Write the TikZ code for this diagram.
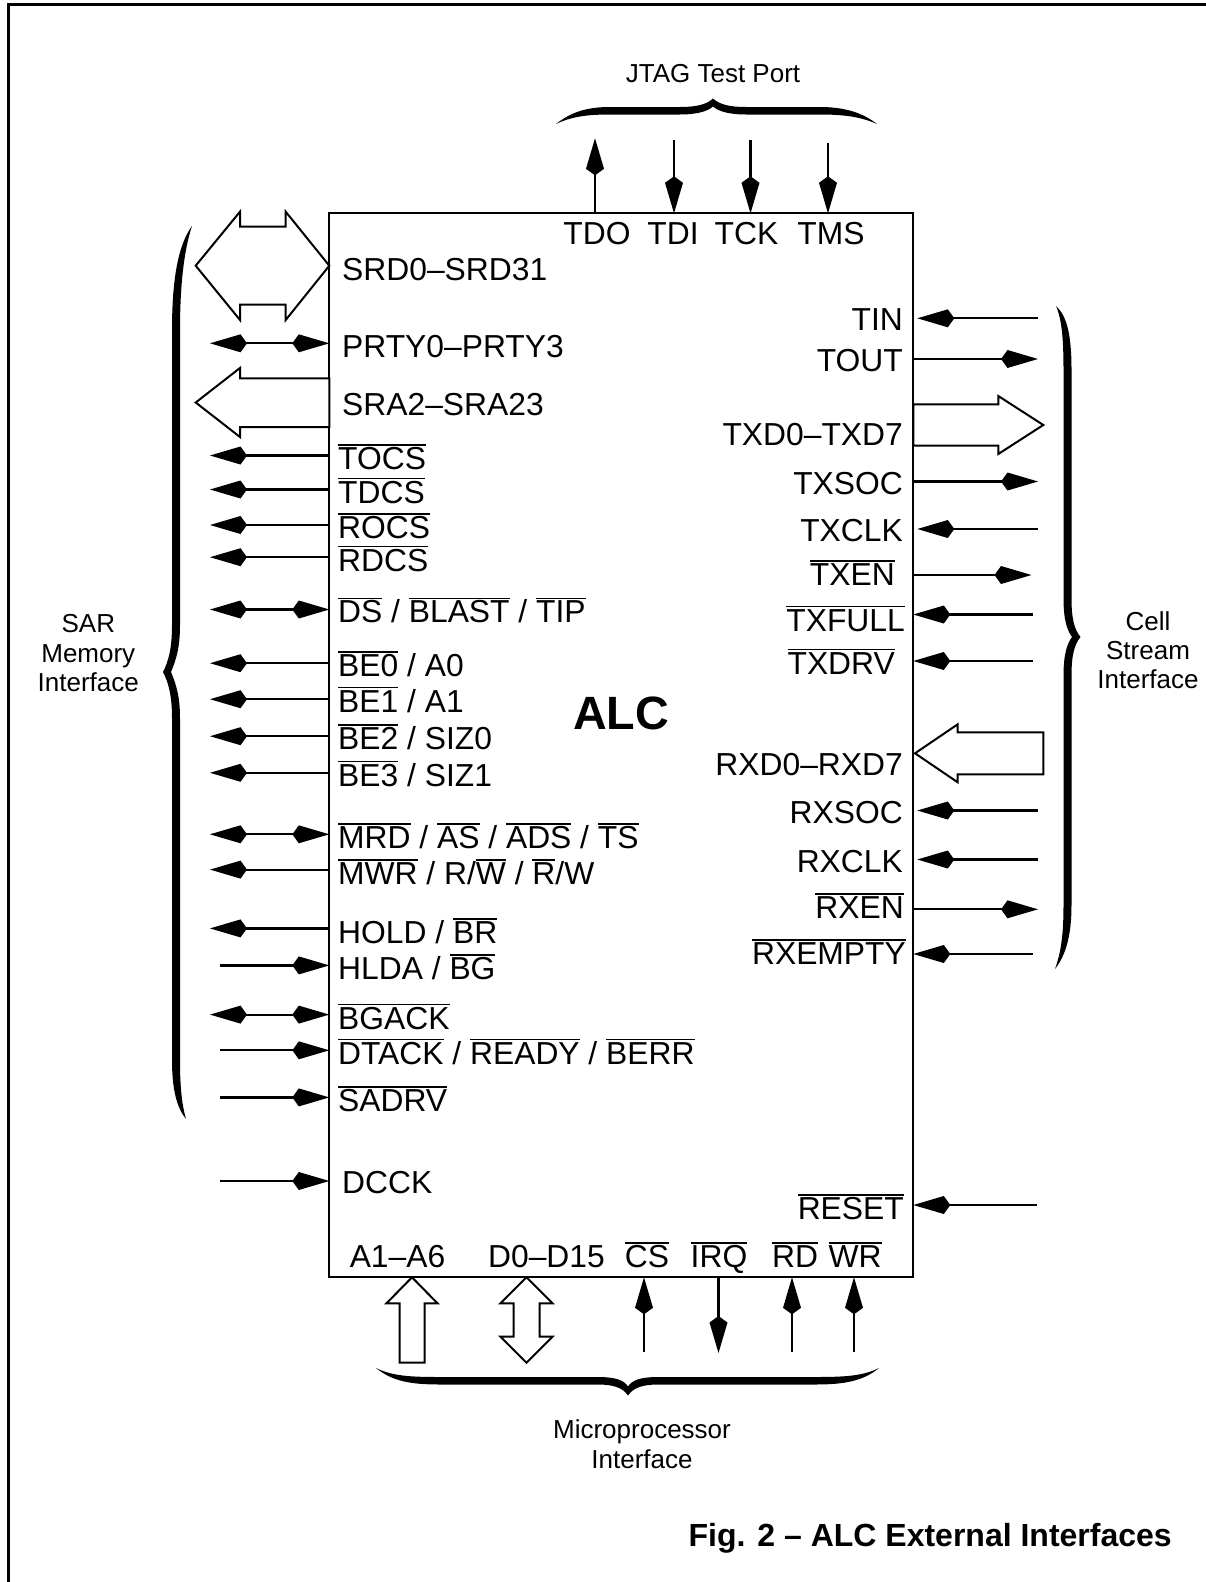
\documentclass[tikz,border=0pt]{standalone}
\usepackage{fontspec}
\setmainfont{Liberation Sans}
\usetikzlibrary{arrows.meta}
\newcommand\ovl[1]{\setbox0\hbox{#1}\rlap{\rule[23.8pt]{\wd0}{1.4pt}}\box0\relax}
\begin{document}
\begin{tikzpicture}[x=1pt,y=-1pt,line join=miter,
  >={Kite[length=37pt,width=18pt,inset=6.5pt]},
  sig/.style={line width=2.2pt},
  blk/.style={draw,line width=2pt,fill=white},
  lab/.style={font=\fontsize{31.8}{36}\selectfont,inner sep=0pt},
  llab/.style={lab,anchor=base west},
  rlab/.style={lab,anchor=base east},
  clab/.style={lab,anchor=base},
  grp/.style={font=\fontsize{26}{29.3}\selectfont,inner sep=0pt,align=center,anchor=north},
  brc/.style={fill=black}]
\useasboundingbox (0,0) rectangle (1205,1582);
% outer frame (top and left edges)
\draw[line width=2.5pt] (8.3,1600) -- (8.3,4.7) -- (1220,4.7);

% main block
\node[draw,line width=2.3pt,inner sep=0pt,outer sep=0pt,minimum width=584pt,minimum height=1064pt,anchor=north west] (box) at (329.3,213.3) {};
\node[font=\bfseries\fontsize{46.7}{50}\selectfont,anchor=base,inner sep=0pt] (alc) at (621,729) {ALC};

% ---------- left side ----------
\draw[blk] (195.7,265.7) -- (240,211.7) -- (240,226.7) -- (285.7,226.7) -- (285.7,211.7) -- (329.3,265.7)
  -- (285.7,320) -- (285.7,304.5) -- (240,304.5) -- (240,320) -- cycle;
\draw[blk] (195.7,402.5) -- (240,368) -- (240,378.3) -- (329.3,378.3) -- (329.3,427) -- (240,427) -- (240,437) -- cycle;

\coordinate (L-prty) at (210,343.3);
\coordinate (L-tocs) at (210,455.5);
\coordinate (L-tdcs) at (210,489.5);
\coordinate (L-rocs) at (210,525);
\coordinate (L-rdcs) at (210,557.2);
\coordinate (L-ds)   at (210,609.5);
\coordinate (L-be0)  at (210,663.2);
\coordinate (L-be1)  at (210,699.2);
\coordinate (L-be2)  at (210,736.2);
\coordinate (L-be3)  at (210,772.8);
\coordinate (L-mrd)  at (210,834.3);
\coordinate (L-mwr)  at (210,869.6);
\coordinate (L-hold) at (210,928.4);
\coordinate (L-hlda) at (219.5,965.4);
\coordinate (L-bgack) at (210,1014.6);
\coordinate (L-dtack) at (219.5,1050.3);
\coordinate (L-sadrv) at (219.5,1097.4);
\coordinate (L-dcck) at (219.5,1181);

\draw[sig,<->] (L-prty) -- (L-prty -| box.west);
\foreach \p in {tocs,tdcs,rocs,rdcs,be0,be1,be2,be3,mwr,hold}
  \draw[sig,->] (box.west |- L-\p) -- (L-\p);
\foreach \p in {ds,mrd,bgack}
  \draw[sig,<->] (L-\p) -- (L-\p -| box.west);
\foreach \p in {hlda,dtack,sadrv,dcck}
  \draw[sig,->] (L-\p) -- (L-\p -| box.west);

\node[llab] (t-srd)  at (342,280.7) {SRD0–SRD31};
\node[llab] (t-prty) at (342,357.3) {PRTY0–PRTY3};
\node[llab] (t-sra)  at (342,415) {SRA2–SRA23};
\node[llab] (t-tocs) at (338,469.5) {\ovl{TOCS}};
\node[llab] (t-tdcs) at (338,503) {\ovl{TDCS}};
\node[llab] (t-rocs) at (338,538.5) {\ovl{ROCS}};
\node[llab] (t-rdcs) at (338,571) {\ovl{RDCS}};
\node[llab] (t-ds)   at (338,622.7) {\ovl{DS} / \ovl{BLAST} / \ovl{TIP}};
\node[llab] (t-be0)  at (338,676.3) {\ovl{BE0} / A0};
\node[llab] (t-be1)  at (338,712) {\ovl{BE1} / A1};
\node[llab] (t-be2)  at (338,749.3) {\ovl{BE2} / SIZ0};
\node[llab] (t-be3)  at (338,786) {\ovl{BE3} / SIZ1};
\node[llab] (t-mrd)  at (338,848.3) {\ovl{MRD} / \ovl{AS} / \ovl{ADS} / \ovl{TS}};
\node[llab] (t-mwr)  at (338,884.5) {\ovl{MWR} / R/\ovl{W} / \ovl{R}/W};
\node[llab] (t-hold) at (338,943.5) {HOLD / \ovl{BR}};
\node[llab] (t-hlda) at (338,979.5) {HLDA / \ovl{BG}};
\node[llab] (t-bgack) at (338,1029) {\ovl{BGACK}};
\node[llab] (t-dtack) at (338,1064) {\ovl{DTACK} / \ovl{READY} / \ovl{BERR}};
\node[llab] (t-sadrv) at (338,1111.5) {\ovl{SADRV}};
\node[llab] (t-dcck) at (342,1193.3) {DCCK};

% left brace
\fill[brc] (192,226) .. controls (178,245) and (172,280) .. (172,330)
  -- (172,625) .. controls (172,650) and (168,662) .. (163,672)
  .. controls (168,682) and (172,694) .. (172,718)
  -- (172,1060) .. controls (172,1090) and (177,1108) .. (186,1119)
  .. controls (182,1105) and (180,1088) .. (180,1060)
  -- (180,718) .. controls (180,696) and (176,684) .. (171,672)
  .. controls (176,660) and (180,648) .. (180,625)
  -- (180,330) .. controls (180,285) and (184,250) .. (192,226) -- cycle;
\node[grp] (g-sar) at (88.3,614.4) {SAR\\Memory\\Interface};

% ---------- right side ----------
\draw[blk] (913.3,404.3) -- (998.3,404.3) -- (998.3,396) -- (1043.3,425) -- (998.3,454) -- (998.3,445.7) -- (913.3,445.7) -- cycle;
\draw[blk] (915,753.3) -- (957.7,724.3) -- (957.7,732.3) -- (1043.3,732.3) -- (1043.3,774.3) -- (957.7,774.3) -- (957.7,782.3) -- cycle;

\coordinate (R-tin)   at (1038,318.3);
\coordinate (R-tout)  at (1038,359);
\coordinate (R-txsoc) at (1038,481.5);
\coordinate (R-txclk) at (1038,529);
\coordinate (R-txen)  at (1031.5,575);
\coordinate (R-txfull) at (1033,614.5);
\coordinate (R-txdrv) at (1033,661);
\coordinate (R-rxsoc) at (1038,810.5);
\coordinate (R-rxclk) at (1038,859.5);
\coordinate (R-rxen)  at (1038,909.3);
\coordinate (R-rxempty) at (1033,954);
\coordinate (R-reset) at (1037,1205);

\foreach \p in {tin,txclk,rxsoc,rxclk}
  \draw[sig,->] (R-\p) -- ([xshift=4pt]R-\p -| box.east);
\foreach \p in {txfull,txdrv,rxempty,reset}
  \draw[sig,->] (R-\p) -- (R-\p -| box.east);
\foreach \p in {tout,txsoc,txen,rxen}
  \draw[sig,->] (box.east |- R-\p) -- (R-\p);

\node[rlab] (t-tin)   at (903,330) {TIN};
\node[rlab] (t-tout)  at (903,371.7) {TOUT};
\node[rlab] (t-txd)   at (903,445) {TXD0–TXD7};
\node[rlab] (t-txsoc) at (903,494) {TXSOC};
\node[rlab] (t-txclk) at (903,541.7) {TXCLK};
\node[rlab] (t-txen)  at (895,585.5) {\ovl{TXEN}};
\node[rlab] (t-txfull) at (905,631) {\ovl{TXFULL}};
\node[rlab] (t-txdrv) at (895,674) {\ovl{TXDRV}};
\node[rlab] (t-rxd)   at (903,775) {RXD0–RXD7};
\node[rlab] (t-rxsoc) at (903,823.5) {RXSOC};
\node[rlab] (t-rxclk) at (903,872.5) {RXCLK};
\node[rlab] (t-rxen)  at (904,918.5) {\ovl{RXEN}};
\node[rlab] (t-rxempty) at (906,964.5) {\ovl{RXEMPTY}};
\node[rlab] (t-reset) at (904,1219.5) {\ovl{RESET}};

% right brace
\fill[brc] (1056,306) .. controls (1062,320) and (1063.5,340) .. (1063.5,370)
  -- (1063.5,598) .. controls (1063.5,620) and (1067,630) .. (1072,637)
  .. controls (1067,644) and (1063.5,654) .. (1063.5,676)
  -- (1063.5,905) .. controls (1063.5,935) and (1061,952) .. (1055,969)
  .. controls (1066,955) and (1071.5,935) .. (1071.5,905)
  -- (1071.5,676) .. controls (1071.5,656) and (1074,645) .. (1080.5,637)
  .. controls (1074,629) and (1071.5,618) .. (1071.5,598)
  -- (1071.5,370) .. controls (1071.5,335) and (1067,316) .. (1056,306) -- cycle;
\node[grp] (g-cell) at (1148,611) {Cell\\Stream\\Interface};

% ---------- top (JTAG) ----------
\coordinate (T-tdo) at (595,138.3);
\coordinate (T-tdi) at (674,140);
\coordinate (T-tck) at (750.5,140);
\coordinate (T-tms) at (828,143.3);
\draw[sig,->] (T-tdo |- box.north) -- (T-tdo);
\foreach \p in {tdi,tck,tms}
  \draw[sig,->] (T-\p) -- (T-\p |- box.north);
\node[clab] (t-tdo) at (597,244) {TDO};
\node[clab] (t-tdi) at (673,244) {TDI};
\node[clab] (t-tck) at (746.5,244) {TCK};
\node[clab] (t-tms) at (831,244) {TMS};

\fill[brc] (556,124) .. controls (570,113) and (585,107) .. (610,107)
  -- (680,107) .. controls (698,107) and (707,104) .. (713,98.5)
  .. controls (719,104) and (728,107) .. (746,107)
  -- (820,107) .. controls (845,107) and (863,113) .. (877,124)
  .. controls (861,117) and (845,114.5) .. (820,114.5)
  -- (746,114.5) .. controls (728,114.5) and (718,111) .. (713,106.5)
  .. controls (708,111) and (698,114.5) .. (680,114.5)
  -- (610,114.5) .. controls (585,114.5) and (571,117) .. (556,124) -- cycle;
\node[font=\fontsize{26}{29.3}\selectfont,inner sep=0pt,anchor=base] (g-jtag) at (713,82) {JTAG Test Port};

% ---------- bottom (microprocessor) ----------
\draw[blk] (412,1277.3) -- (437.5,1303.3) -- (424.5,1303.3) -- (424.5,1362.7) -- (399.5,1362.7) -- (399.5,1303.3) -- (386.5,1303.3) -- cycle;
\draw[blk] (526.5,1277.3) -- (552.5,1303.3) -- (539.5,1303.3) -- (539.5,1336.7) -- (552.5,1336.7) -- (526.5,1362.7)
  -- (500.5,1336.7) -- (513.5,1336.7) -- (513.5,1303.3) -- (500.5,1303.3) -- cycle;

\coordinate (B-cs)  at (644,1352);
\coordinate (B-irq) at (718.5,1353);
\coordinate (B-rd)  at (792,1352);
\coordinate (B-wr)  at (854,1352);
\foreach \p in {cs,rd,wr}
  \draw[sig,->] (B-\p) -- (B-\p |- box.south);
\draw[sig,->] (B-irq |- box.south) -- (B-irq);

\node[clab] (t-a)   at (397.5,1267.3) {A1–A6};
\node[clab] (t-d)   at (546.5,1267.3) {D0–D15};
\node[clab] (t-cs)  at (647,1267.3) {\ovl{CS}};
\node[clab] (t-irq) at (719,1267.3) {\ovl{IRQ}};
\node[clab] (t-rd)  at (795,1267.3) {\ovl{RD}};
\node[clab] (t-wr)  at (855,1267.3) {\ovl{WR}};

\fill[brc] (376,1368) .. controls (392,1376) and (410,1377) .. (440,1377)
  -- (598,1377) .. controls (615,1377) and (624,1380) .. (628,1386.5)
  .. controls (632,1380) and (641,1377) .. (658,1377)
  -- (815,1377) .. controls (845,1377) and (863,1376) .. (879,1368)
  .. controls (863,1381) and (845,1384.5) .. (815,1384.5)
  -- (658,1384.5) .. controls (642,1384.5) and (633,1388) .. (628,1395.5)
  .. controls (623,1388) and (614,1384.5) .. (598,1384.5)
  -- (440,1384.5) .. controls (410,1384.5) and (392,1381) .. (376,1368) -- cycle;
\node[grp] (g-mpu) at (642,1419.7) {Microprocessor\\Interface};

% caption
\node[font=\bfseries\fontsize{32}{36}\selectfont,anchor=base east,inner sep=0pt] (cap) at (1172,1546.5) {Fig. 2 – ALC External Interfaces};
\end{tikzpicture}
\end{document}
